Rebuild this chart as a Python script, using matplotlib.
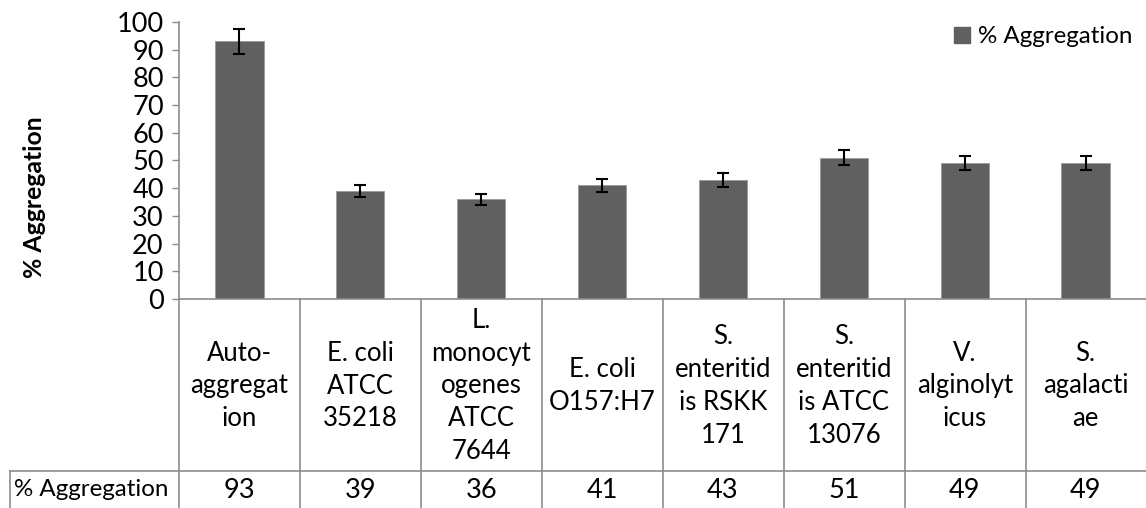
import matplotlib
matplotlib.use("Agg")
import matplotlib.pyplot as plt
import matplotlib.transforms as mtransforms
from matplotlib.patches import Patch

plt.rcParams['font.family'] = ['Lato', 'DejaVu Sans']

categories = ["Auto-\naggregat\nion", "E. coli\nATCC\n35218", "L.\nmonocyt\nogenes\nATCC\n7644",
              "E. coli\nO157:H7", "S.\nenteritid\nis RSKK\n171", "S.\nenteritid\nis ATCC\n13076",
              "V.\nalginolyt\nicus", "S.\nagalacti\nae"]
values = [93, 39, 36, 41, 43, 51, 49, 49]
errors = [4.5, 2.0, 2.0, 2.3, 2.4, 2.7, 2.6, 2.6]
series_name = "% Aggregation"
yticks = list(range(0, 101, 10))

W, H = 1146, 508
fig = plt.figure(figsize=(W / 100, H / 100), dpi=100)
x0, x1 = 179, 1146
y0, y1 = 299, 22
ax = fig.add_axes([x0 / W, (H - y0) / H, (x1 - x0) / W, (y0 - y1) / H])

bar_color = "#606060"
grid_c = "#8c8c8c"
xs = list(range(len(values)))
ax.bar(xs, values, width=0.4, color=bar_color, edgecolor="#9a9a9a", linewidth=0.6, zorder=2)
ax.errorbar(xs, values, yerr=errors, fmt='none', ecolor='black', elinewidth=1.5,
            capsize=4.3, capthick=1.5, zorder=3)

ax.set_xlim(-0.5, len(values) - 0.5)
ax.set_ylim(0, 100)
ax.set_yticks(yticks)
ax.set_yticklabels([str(t) for t in yticks], fontsize=19.5)
ax.tick_params(axis='y', length=5, color=grid_c, width=1, pad=6)
ax.set_xticks([])
for s in ['top', 'right']:
    ax.spines[s].set_visible(False)
ax.spines['left'].set_color(grid_c)
ax.spines['bottom'].set_color(grid_c)
ax.spines['left'].set_linewidth(1.2)
ax.spines['bottom'].set_linewidth(1.2)

# y label
fig.text(35 / W, (H - 197) / H, "% Aggregation", rotation=90, fontsize=17.8,
         fontweight='bold', ha='center', va='center')

# legend
leg = ax.legend(handles=[Patch(facecolor=bar_color, edgecolor=bar_color, label=series_name)],
                loc='upper right', bbox_to_anchor=(0.996, 1.02), frameon=False, fontsize=17.4,
                handlelength=0.65, handleheight=0.65, handletextpad=0.35, borderaxespad=0.0)

# data table (drawn in figure pixel coordinates)
def fy(py):
    return (H - py) / H
def fx(px):
    return px / W

line_kw = dict(color=grid_c, linewidth=1.2, transform=fig.transFigure)
row_split = 471
cell_w = (x1 + 1 - x0) / len(values)
for i in range(len(values) + 1):
    px = x0 + i * cell_w
    fig.add_artist(plt.Line2D([fx(px), fx(px)], [fy(y0), fy(H)], **line_kw))
fig.add_artist(plt.Line2D([fx(10), fx(W)], [fy(row_split), fy(row_split)], **line_kw))
fig.add_artist(plt.Line2D([fx(10), fx(10)], [fy(row_split), fy(H)], **line_kw))

trans = mtransforms.blended_transform_factory(ax.transData, fig.transFigure)
for i, (c, v) in enumerate(zip(categories, values)):
    ax.text(i, fy(386), c, transform=trans, ha='center', va='center', fontsize=18.5,
            linespacing=1.39, multialignment='center', clip_on=False)
    ax.text(i, fy(490), str(v), transform=trans, ha='center', va='center', fontsize=19.5,
            clip_on=False)
fig.text(fx(14), fy(490), series_name, ha='left', va='center', fontsize=17.4)

fig.savefig("out.png", dpi=100)
